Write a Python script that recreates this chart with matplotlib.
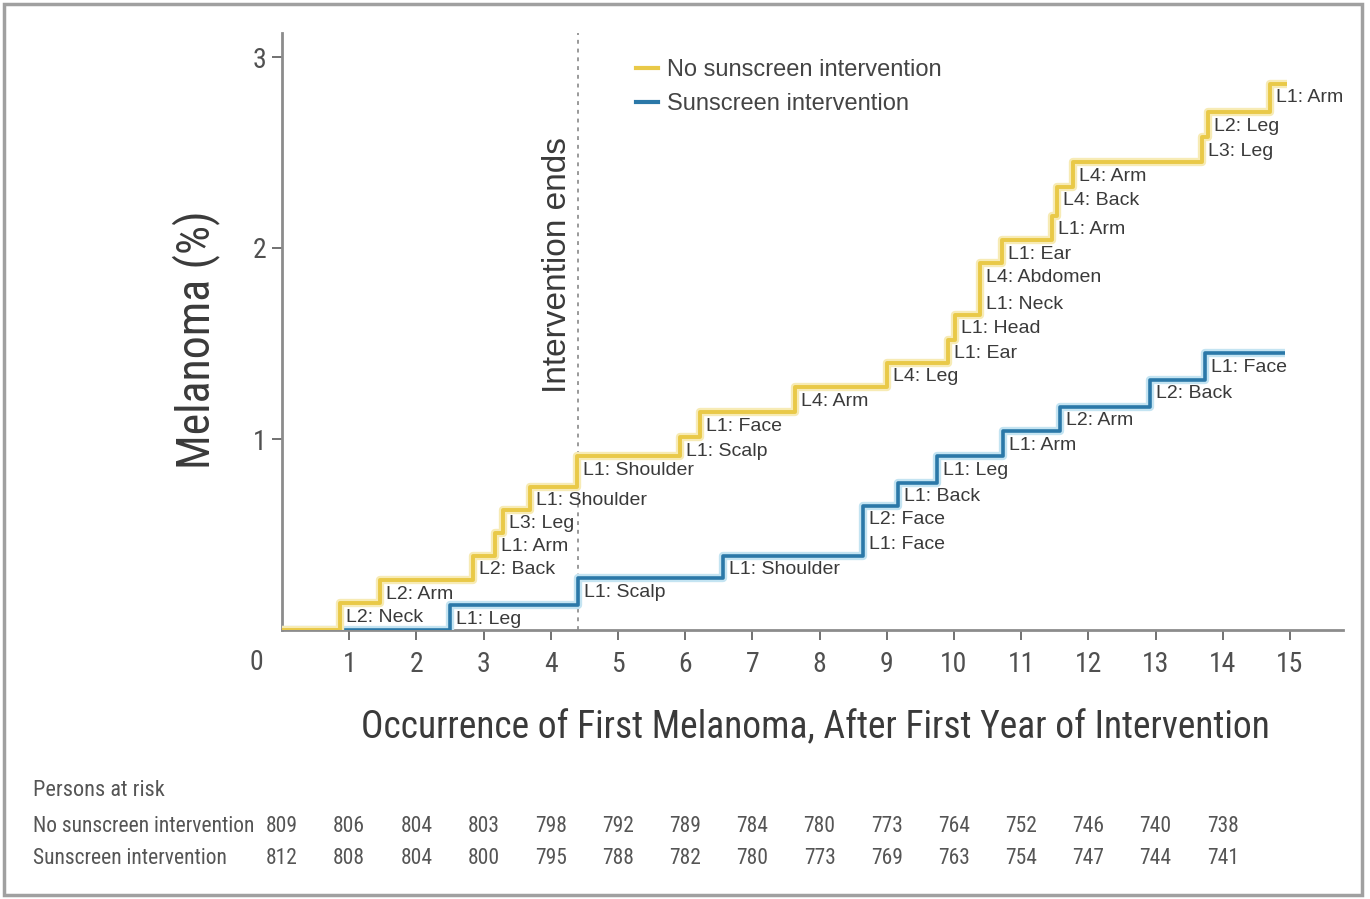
import matplotlib
matplotlib.use('Agg')
import matplotlib.pyplot as plt
from matplotlib import font_manager
from matplotlib.font_manager import FontProperties
from matplotlib.patches import Rectangle
from matplotlib.lines import Line2D
from matplotlib.transforms import blended_transform_factory

# ---------------- data ----------------
no_times = [0.86, 1.46, 2.84, 3.17, 3.29, 3.69, 4.39, 5.92, 6.22, 7.63, 9.00,
            9.91, 10.01, 10.39, 10.39, 10.71, 11.46, 11.53, 11.77, 13.69, 13.78, 14.70]
no_levels = [0.14, 0.26, 0.39, 0.51, 0.63, 0.75, 0.91, 1.01, 1.14, 1.27, 1.40,
             1.52, 1.65, 1.78, 1.92, 2.04, 2.17, 2.32, 2.45, 2.58, 2.71, 2.86]
no_labels = ['L2: Neck', 'L2: Arm', 'L2: Back', 'L1: Arm', 'L3: Leg', 'L1: Shoulder',
             'L1: Shoulder', 'L1: Scalp', 'L1: Face', 'L4: Arm', 'L4: Leg', 'L1: Ear',
             'L1: Head', 'L1: Neck', 'L4: Abdomen', 'L1: Ear', 'L1: Arm', 'L4: Back',
             'L4: Arm', 'L3: Leg', 'L2: Leg', 'L1: Arm']
no_end = 14.96

sun_times = [2.50, 4.40, 6.56, 8.65, 8.65, 9.17, 9.75, 10.73, 11.58, 12.92, 13.74]
sun_levels = [0.13, 0.27, 0.39, 0.52, 0.65, 0.77, 0.91, 1.04, 1.17, 1.31, 1.45]
sun_labels = ['L1: Leg', 'L1: Scalp', 'L1: Shoulder', 'L1: Face', 'L2: Face', 'L1: Back',
              'L1: Leg', 'L1: Arm', 'L2: Arm', 'L2: Back', 'L1: Face']
sun_end = 14.93

intervention_end = 4.40

series_names = ['No sunscreen intervention', 'Sunscreen intervention']
risk_years = list(range(15))
risk_no = [809, 806, 804, 803, 798, 792, 789, 784, 780, 773, 764, 752, 746, 740, 738]
risk_sun = [812, 808, 804, 800, 795, 788, 782, 780, 773, 769, 763, 754, 747, 744, 741]

x_ticks = list(range(1, 16))
y_ticks = [1, 2, 3]

# ---------------- fonts ----------------
avail = {f.name for f in font_manager.fontManager.ttflist}
if 'Liberation Sans Narrow' in avail:
    NARROW = dict(family='Liberation Sans Narrow')
elif 'Roboto Condensed' in avail:
    NARROW = dict(family='Roboto Condensed')
else:
    NARROW = dict(family='DejaVu Sans', stretch='condensed')
REG = dict(family='Liberation Sans' if 'Liberation Sans' in avail else 'DejaVu Sans')

YELLOW = '#E9C948'
YELLOW_HALO = '#F7EBB5'
BLUE = '#2B78A8'
BLUE_HALO = '#C4E4F2'
AXIS = '#8c8c8c'
TXT = '#3a3a3a'

W, H = 1370, 899
fig = plt.figure(figsize=(W / 100, H / 100), dpi=100)
fig.patch.set_facecolor('white')

x0, y0px = 282, 630
ax = fig.add_axes([x0 / W, (H - y0px) / H, 1061 / W, 597 / H])
ax.set_xlim(0, 1061 / 67.2)
ax.set_ylim(0, 597 / 191.0)

for s in ['top', 'right']:
    ax.spines[s].set_visible(False)
for s in ['left', 'bottom']:
    ax.spines[s].set_color(AXIS)
    ax.spines[s].set_linewidth(2.0)

ax.set_xticks(x_ticks)
ax.set_yticks(y_ticks)
ax.tick_params(axis='x', direction='out', length=7, width=1.3, color='#666666', pad=8,
               labelsize=20, labelcolor='#505050')
ax.tick_params(axis='y', direction='out', length=7, width=1.3, color='#666666', pad=4,
               labelsize=20, labelcolor='#505050')
for lab in ax.get_xticklabels() + ax.get_yticklabels():
    lab.set_fontproperties(FontProperties(size=20, **NARROW))

# origin label
ax.annotate('0', xy=(0, 0), xytext=(-26, -33), textcoords='offset pixels',
            ha='center', va='center', fontsize=20, color='#505050', **NARROW)

# intervention end line
ax.axvline(intervention_end, color='#9a9a9a', lw=1.4, ls=(0, (2, 2.5)), zorder=1)

# step curves
def steps(times, levels, end):
    xs = [0] + list(times) + [end]
    ys = [0] + list(levels) + [levels[-1]]
    return xs, ys

sx, sy = steps(sun_times, sun_levels, sun_end)
nx, ny = steps(no_times, no_levels, no_end)
ax.step(sx, sy, where='post', color=BLUE_HALO, lw=6, zorder=3, solid_capstyle='butt')
ax.step(sx, sy, where='post', color=BLUE, lw=2.6, zorder=4, solid_capstyle='butt')
ax.step(nx, ny, where='post', color=YELLOW_HALO, lw=6, zorder=5, solid_capstyle='butt')
ax.step(nx, ny, where='post', color=YELLOW, lw=2.8, zorder=6, solid_capstyle='butt')

# event labels
for t, lv, lab in list(zip(no_times, no_levels, no_labels)) + list(zip(sun_times, sun_levels, sun_labels)):
    ax.annotate(lab, xy=(t, lv), xytext=(6, -14), textcoords='offset pixels',
                ha='left', va='center', fontsize=14, color=TXT, zorder=7, **REG)

# legend
handles = [Line2D([], [], color=YELLOW, lw=3), Line2D([], [], color=BLUE, lw=3)]
leg = fig.legend(handles, series_names, loc='upper left',
                 bbox_to_anchor=(636 / W, 1 - 59 / H), bbox_transform=fig.transFigure,
                 frameon=False, borderpad=0, borderaxespad=0, handlelength=0.95,
                 handletextpad=0.35, labelspacing=0.52,
                 prop=FontProperties(size=17, **REG))
for t in leg.get_texts():
    t.set_color('#444444')

# axis labels
fig.text(815 / W, 1 - 728 / H, 'Occurrence of First Melanoma, After First Year of Intervention',
         ha='center', va='center', fontsize=27, color=TXT, **NARROW)
fig.text(196 / W, 1 - 340 / H, 'Melanoma (%)', rotation=90, ha='center', va='center',
         fontsize=33, color=TXT, **NARROW)
fig.text(557 / W, 1 - 265 / H, 'Intervention ends', rotation=90, ha='center', va='center',
         fontsize=24, color=TXT, **REG)

# persons at risk table
fig.text(33 / W, 1 - 790 / H, 'Persons at risk', ha='left', va='center',
         fontsize=16, color='#555555', **NARROW)
tr = blended_transform_factory(ax.transData, fig.transFigure)
for name, vals, ypx in [(series_names[0], risk_no, 826), (series_names[1], risk_sun, 858)]:
    fig.text(33 / W, 1 - ypx / H, name, ha='left', va='center', fontsize=15.5,
             color='#555555', **NARROW)
    for yr, v in zip(risk_years, vals):
        fig.text(yr, 1 - ypx / H, str(v), transform=tr, ha='center', va='center',
                 fontsize=15.5, color='#555555', **NARROW)

# outer frame
fig.patches.append(Rectangle((4 / W, 4 / H), (1362 - 4) / W, (895 - 4) / H,
                             transform=fig.transFigure, fill=False,
                             ec='#a0a0a0', lw=2.5))

fig.savefig('out.png', dpi=100, facecolor='white')
